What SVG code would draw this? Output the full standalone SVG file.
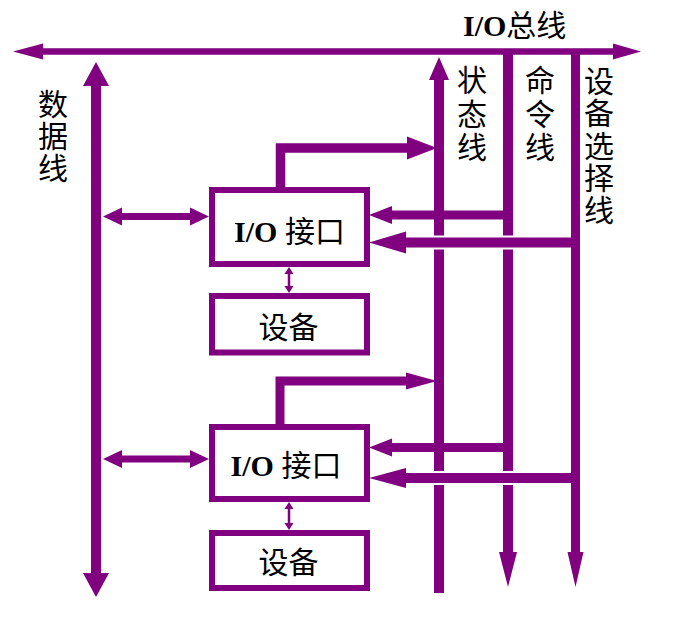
<svg xmlns="http://www.w3.org/2000/svg" width="696" height="631" viewBox="0 0 696 631">
<style>
.c{fill:#800080}
.o{fill:#800080;stroke:#fff;stroke-width:4;paint-order:stroke;stroke-linejoin:miter}
.e{fill:none;stroke:#800080;stroke-linejoin:miter;stroke-linecap:butt}
.box{fill:#fff;stroke:#800080;stroke-width:6}
.t{font-family:"Liberation Serif","Noto Sans CJK SC",serif;font-size:30px;fill:#000}
.b{font-weight:bold}
.v{font-family:"Noto Sans CJK SC",sans-serif;font-size:30px;fill:#000;text-anchor:middle;dominant-baseline:central}
.vt{font-family:"Noto Sans CJK SC",sans-serif;font-size:30px;fill:#000;writing-mode:vertical-rl}
</style>
<rect width="696" height="631" fill="#fff"/>
<g id="connectors">
<polygon class="c" points="13,51.5 43,43.5 43,48.25 613,48.25 613,43.5 641,51.5 613,59.5 613,54.75 43,54.75 43,59.5"/>
<polygon class="c" points="96,62 109,86 101,86 101,573 109,573 96,597 83,573 91,573 91,86 83,86"/>
<polygon class="c" points="439,57 449,80 444,80 444,593 434,593 434,80 429,80"/>
<polygon class="c" points="503,50 513,50 513,552 517,552 508,587 499,552 503,552"/>
<path class="e" stroke-width="9.5" d="M280.5,188 V148 H409"/>
<polygon class="c" points="437,148 407,136.5 407,159.5"/>
<path class="e" stroke-width="9" d="M280,425 V381 H408"/>
<polygon class="c" points="437,381 406,372.5 406,389.5"/>
<polygon class="c" points="103,216.5 122,207.5 122,213 190,213 190,207.5 209,216.5 190,225.5 190,220 122,220 122,225.5"/>
<polygon class="c" points="103,459 122,450 122,455.5 190,455.5 190,450 209,459 190,468 190,462.5 122,462.5 122,468"/>
<polygon class="c" points="369,215 392,206 392,210.5 513,210.5 513,219.5 392,219.5 392,224"/>
<polygon class="c" points="369,447.5 392,438.5 392,443 513,443 513,452 392,452 392,456.5"/>
<polygon class="o" points="369,242.5 406,231.5 406,237.5 575,237.5 575,247.5 406,247.5 406,253.5"/>
<polygon class="o" points="369,478 406,468 406,473 575,473 575,483 406,483 406,488"/>
<polygon class="c" points="571,50 580,50 580,552 583.5,552 575.5,587 567.5,552 571,552"/>
<line x1="289" y1="273" x2="289" y2="287" stroke="#800080" stroke-width="2.5"/>
<polygon class="c" points="289,267 293.5,274 284.5,274"/>
<polygon class="c" points="289,293 284.5,286 293.5,286"/>
<line x1="289" y1="508" x2="289" y2="524" stroke="#800080" stroke-width="2.5"/>
<polygon class="c" points="289,502 293.5,509 284.5,509"/>
<polygon class="c" points="289,530 284.5,523 293.5,523"/>
</g>
<g id="interface1">
<rect class="box" x="212" y="190" width="155" height="74"/>
<text class="t" x="289.5" y="242" text-anchor="middle"><tspan class="b">I/O</tspan> 接口</text>
</g>
<g id="device1">
<rect class="box" x="212" y="296" width="155" height="56.5"/>
<text class="v" x="288.5" y="325">设备</text>
</g>
<g id="interface2">
<rect class="box" x="212" y="427" width="155" height="72"/>
<text class="t" x="286" y="476" text-anchor="middle"><tspan class="b">I/O</tspan> 接口</text>
</g>
<g id="device2">
<rect class="box" x="212" y="533" width="155" height="55"/>
<text class="v" x="288.5" y="560">设备</text>
</g>
<g id="labels">
<text class="t" x="463" y="36"><tspan class="b">I/O</tspan>总线</text>
<text class="vt" x="53" y="88.5" letter-spacing="2.25">数据线</text>
<text class="vt" x="472" y="65" letter-spacing="3.25">状态线</text>
<text class="vt" x="540" y="65" letter-spacing="3.25">命令线</text>
<text class="vt" x="599" y="65.5" letter-spacing="2.4">设备选择线</text>
</g>
</svg>
